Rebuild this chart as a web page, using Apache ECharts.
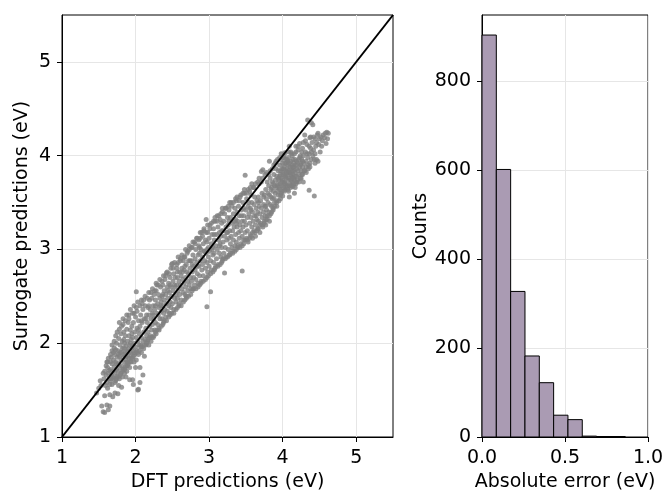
<!DOCTYPE html>
<html>
<head>
<meta charset="utf-8">
<script src="https://cdn.jsdelivr.net/npm/echarts@6/dist/echarts.min.js"></script>
<style>
html,body{margin:0;padding:0;background:#fff;}
#chart{width:665px;height:493px;}
</style>
</head>
<body>
<div id="chart"></div>
<script>
// ---- Data ----
// Scatter: [DFT prediction (eV), surrogate prediction (eV)] - core of the cloud
const scatterPoints = [
[1.47,1.47],[1.50,1.52],[1.52,1.60],[1.54,1.33],[1.53,1.55],
[1.56,1.27],[1.58,1.26],[1.61,1.34],[1.63,1.29],[1.65,1.33],[1.58,1.44],[1.65,1.45],[1.57,1.62],[1.58,1.70],[1.60,1.66],[1.61,1.58],[1.62,1.74],[1.63,1.68],[1.64,1.62],[1.59,1.55],[1.56,1.68],[1.62,1.80],[1.64,1.71],[1.60,1.76],
[1.66,1.60],[1.66,1.72],[1.67,1.85],[1.67,1.66],[1.68,1.78],[1.68,1.92],[1.69,1.70],[1.69,1.43],[1.70,1.63],[1.70,1.82],[1.71,1.75],[1.71,1.95],[1.72,1.47],[1.72,1.68],[1.72,1.88],[1.73,1.80],[1.73,1.60],[1.74,1.72],[1.74,2.00],[1.75,1.85],[1.75,1.65],[1.70,1.90],[1.68,1.56],[1.73,1.93],[1.66,1.80],
[1.76,1.46],[1.76,1.70],[1.76,1.92],[1.77,1.78],[1.77,2.05],[1.78,1.62],[1.78,1.86],[1.79,1.74],[1.79,1.98],[1.80,1.68],[1.80,1.82],[1.80,2.10],[1.81,1.90],[1.81,1.76],[1.82,1.64],[1.82,2.02],[1.83,1.85],[1.83,1.72],[1.84,1.95],[1.84,2.12],[1.85,1.80],[1.85,1.68],[1.78,2.15],[1.82,1.94],[1.84,1.88],[1.77,1.55],[1.81,1.53],[1.83,2.20],[1.79,1.90],[1.85,2.00],
[1.86,1.74],[1.86,1.90],[1.86,2.08],[1.87,1.82],[1.87,1.97],[1.88,1.70],[1.88,2.15],[1.89,1.86],[1.89,2.02],[1.90,1.78],[1.90,1.94],[1.90,2.22],[1.91,2.08],[1.91,1.84],[1.92,1.61],[1.92,1.98],[1.92,1.74],[1.93,2.14],[1.93,1.90],[1.94,1.80],[1.94,2.04],[1.95,1.95],[1.95,2.18],[1.88,1.92],[1.91,2.26],[1.87,1.64],[1.93,2.00],[1.89,1.76],[1.94,1.88],
[1.96,1.61],[1.96,1.84],[1.96,2.06],[1.97,1.56],[1.97,1.92],[1.97,2.22],[1.98,1.80],[1.98,2.00],[1.99,2.12],[1.99,1.88],[2.00,1.96],[2.00,2.28],[2.01,2.55],[2.01,2.06],[2.01,1.82],[2.02,2.16],[2.02,1.92],[2.03,1.50],[2.03,2.02],[2.04,2.24],[2.04,1.88],[2.05,2.10],[2.05,1.98],[1.98,2.32],[2.02,2.34],[2.04,1.51],[2.00,1.74],
[2.06,1.74],[2.06,1.58],[2.06,2.18],[2.07,1.96],[2.07,2.30],[2.08,2.06],[2.08,1.90],[2.09,2.22],[2.10,1.66],[2.10,2.02],[2.10,2.36],[2.11,2.12],[2.11,1.94],[2.12,2.26],[2.13,2.04],[2.13,2.40],[2.14,2.16],[2.14,1.98],[2.15,2.30],[2.15,2.08],[2.12,1.86],[2.09,2.42],
[2.16,2.02],[2.16,2.22],[2.17,2.38],[2.17,2.12],[2.18,1.98],[2.18,2.30],[2.19,2.46],[2.19,2.18],[2.20,2.08],[2.20,2.36],[2.21,2.26],[2.21,2.02],[2.22,2.14],[2.22,2.48],[2.23,2.32],[2.23,2.20],[2.24,2.06],[2.24,2.40],[2.25,2.26],[2.25,2.52],
[2.26,2.14],[2.26,2.36],[2.27,2.46],[2.27,2.22],[2.28,2.10],[2.28,2.56],[2.29,2.62],[2.29,2.32],[2.30,2.20],[2.30,2.42],[2.31,2.30],[2.31,2.52],[2.32,2.14],[2.32,2.38],[2.33,2.48],[2.33,2.26],[2.34,2.60],[2.35,2.34],[2.35,2.44],
[2.36,2.26],[2.36,2.50],[2.37,2.40],[2.37,2.62],[2.38,2.22],[2.38,2.32],[2.39,2.56],[2.39,2.46],[2.40,2.36],[2.40,2.68],[2.41,2.28],[2.41,2.52],[2.42,2.75],[2.42,2.42],[2.43,2.60],[2.43,2.34],[2.44,2.48],[2.45,2.40],[2.45,2.64],
[2.46,2.32],[2.46,2.54],[2.47,2.70],[2.47,2.44],[2.48,2.38],[2.48,2.60],[2.49,2.84],[2.49,2.50],[2.50,2.85],[2.50,2.42],[2.51,2.66],[2.51,2.56],[2.52,2.36],[2.52,2.74],[2.53,2.48],[2.53,2.62],[2.54,2.70],[2.55,2.52],[2.55,2.44],
[2.56,2.62],[2.56,2.80],[2.57,2.48],[2.57,2.70],[2.58,2.56],[2.58,2.86],[2.59,2.42],[2.59,2.66],[2.60,2.76],[2.60,2.52],[2.61,2.62],[2.61,2.90],[2.62,2.72],[2.62,2.46],[2.63,2.58],[2.63,2.80],[2.64,2.68],[2.65,2.54],[2.65,2.88],
[2.66,2.64],[2.66,2.78],[2.67,2.52],[2.67,2.92],[2.68,2.70],[2.68,2.60],[2.69,2.84],[2.69,2.48],[2.70,2.76],[2.70,2.96],[2.71,2.66],[2.71,2.56],[2.72,2.88],[2.72,2.74],[2.73,2.62],[2.73,3.00],[2.74,2.80],[2.75,2.70],[2.75,2.58],
[2.76,2.88],[2.76,2.66],[2.77,3.02],[2.77,2.76],[2.78,2.58],[2.78,2.94],[2.79,2.82],[2.79,2.70],[2.80,3.08],[2.80,2.62],[2.81,2.90],[2.81,2.78],[2.82,2.68],[2.82,3.00],[2.83,2.86],[2.84,2.74],[2.84,3.12],[2.85,2.94],[2.85,2.64],
[2.86,2.82],[2.86,3.04],[2.87,2.72],[2.87,2.96],[2.88,3.12],[2.88,2.88],[2.89,2.66],[2.89,3.00],[2.90,2.78],[2.90,3.18],[2.91,2.92],[2.91,2.84],[2.92,3.06],[2.92,2.72],[2.93,2.98],[2.93,3.22],[2.94,2.88],[2.95,3.10],[2.95,2.80],
[2.96,3.32],[2.96,2.96],[2.97,2.39],[2.97,2.86],[2.97,3.08],[2.98,2.76],[2.98,3.18],[2.99,3.02],[2.99,2.92],[3.00,2.82],[3.00,3.12],[3.01,3.26],[3.01,2.98],[3.02,2.55],[3.02,2.88],[3.03,3.06],[3.03,2.78],[3.04,3.16],[3.05,2.94],[3.05,3.02],
[3.06,2.86],[3.06,3.22],[3.07,3.10],[3.07,2.96],[3.08,3.30],[3.08,2.80],[3.09,3.04],[3.10,3.16],[3.10,2.90],[3.11,3.36],[3.11,3.00],[3.12,2.84],[3.12,3.24],[3.13,3.10],[3.14,2.96],[3.14,3.18],[3.15,3.06],[3.15,3.32],
[3.16,2.92],[3.16,3.14],[3.17,3.28],[3.17,3.02],[3.18,2.88],[3.18,3.40],[3.19,3.20],[3.19,3.08],[3.20,2.96],[3.20,3.30],[3.21,2.75],[3.21,3.14],[3.22,3.44],[3.22,3.02],[3.23,3.24],[3.23,2.92],[3.24,3.10],[3.25,3.34],[3.25,3.18],
[3.26,3.00],[3.26,3.26],[3.27,3.12],[3.27,3.42],[3.28,2.94],[3.28,3.20],[3.29,3.06],[3.29,3.34],[3.30,3.50],[3.30,3.14],[3.31,3.02],[3.31,3.28],[3.32,3.20],[3.32,2.98],[3.33,3.38],[3.33,3.10],[3.34,3.24],[3.35,3.04],[3.35,3.44],
[3.36,3.16],[3.36,3.32],[3.37,3.52],[3.37,3.08],[3.38,3.24],[3.38,3.40],[3.39,3.02],[3.39,3.30],[3.40,3.18],[3.40,3.46],[3.41,3.12],[3.41,3.36],[3.42,3.26],[3.42,3.56],[3.43,3.06],[3.43,3.20],[3.44,3.42],[3.45,2.77],[3.45,3.30],[3.45,3.14],
[3.46,3.24],[3.46,3.50],[3.47,3.36],[3.47,3.10],[3.48,3.30],[3.48,3.60],[3.49,3.79],[3.49,3.18],[3.50,3.42],[3.50,3.26],[3.51,3.12],[3.51,3.54],[3.52,3.34],[3.52,3.20],[3.53,3.46],[3.53,3.08],[3.54,3.38],[3.55,3.28],[3.55,3.62],
[3.56,3.16],[3.56,3.44],[3.57,3.34],[3.57,3.58],[3.58,3.24],[3.58,3.50],[3.59,3.12],[3.59,3.40],[3.60,3.30],[3.60,3.66],[3.61,3.20],[3.61,3.48],[3.62,3.36],[3.62,3.56],[3.63,3.26],[3.63,3.14],[3.64,3.44],[3.65,3.32],[3.65,3.52],
[3.66,3.40],[3.66,3.22],[3.67,3.56],[3.67,3.30],[3.68,3.46],[3.68,3.70],[3.69,3.18],[3.69,3.38],[3.70,3.52],[3.70,3.28],[3.71,3.83],[3.71,3.44],[3.72,3.34],[3.72,3.60],[3.73,3.85],[3.73,3.24],[3.74,3.48],[3.74,3.40],[3.75,3.58],[3.75,3.30],
[3.76,3.46],[3.76,3.36],[3.77,3.64],[3.77,3.26],[3.78,3.54],[3.78,3.42],[3.79,3.72],[3.79,3.32],[3.80,3.50],[3.80,3.60],[3.81,3.40],[3.81,3.68],[3.82,3.58],[3.82,3.94],[3.82,3.30],[3.83,3.48],[3.83,3.76],[3.84,3.56],[3.84,3.38],[3.85,3.66],[3.85,3.46],
[3.86,3.54],[3.86,3.72],[3.87,3.62],[3.87,3.44],[3.88,3.55],[3.88,3.80],[3.89,3.68],[3.89,3.50],[3.90,3.74],[3.90,3.60],[3.91,3.86],[3.91,3.66],[3.92,3.52],[3.92,3.78],[3.93,3.70],[3.93,3.62],[3.94,3.84],[3.94,3.58],[3.95,3.74],[3.95,3.66],[3.90,3.92],[3.92,3.46],
[3.96,3.78],[3.96,3.64],[3.96,3.90],[3.97,3.70],[3.97,3.84],[3.98,3.60],[3.98,3.76],[3.98,3.96],[3.99,3.68],[3.99,3.86],[4.00,3.57],[4.00,3.74],[4.00,3.92],[4.01,3.80],[4.01,3.66],[4.02,3.88],[4.02,3.72],[4.02,4.00],[4.03,3.78],[4.03,4.03],[4.03,3.64],[4.04,3.84],[4.04,3.70],[4.05,3.92],[4.05,3.76],[4.00,3.82],[4.04,3.96],[3.97,3.54],
[4.06,3.68],[4.06,3.86],[4.06,3.80],[4.07,3.74],[4.07,3.94],[4.08,3.62],[4.08,3.82],[4.08,3.98],[4.09,3.56],[4.09,3.76],[4.09,4.10],[4.10,3.88],[4.10,3.70],[4.10,3.82],[4.11,3.94],[4.11,3.66],[4.12,3.78],[4.12,3.86],[4.12,4.02],[4.13,3.72],[4.13,3.90],[4.14,3.67],[4.14,3.80],[4.14,3.96],[4.15,3.84],[4.15,3.76],[4.07,3.90],[4.11,3.74],[4.13,3.84],
[4.16,3.60],[4.16,3.88],[4.16,3.74],[4.17,3.82],[4.17,3.96],[4.18,3.70],[4.18,3.90],[4.18,4.04],[4.19,3.78],[4.19,3.86],[4.20,3.92],[4.20,3.74],[4.21,4.06],[4.21,3.84],[4.22,3.80],[4.22,3.96],[4.23,4.13],[4.23,3.88],[4.24,3.76],[4.24,4.00],[4.25,3.92],[4.25,3.84],
[4.26,3.80],[4.26,3.96],[4.27,4.08],[4.27,3.88],[4.28,3.72],[4.28,4.00],[4.29,3.92],[4.30,4.22],[4.30,3.84],[4.31,4.04],[4.32,3.94],[4.32,3.88],[4.33,4.12],[4.34,4.38],[4.34,3.98],[4.35,3.90],
[4.36,3.63],[4.36,4.02],[4.37,4.19],[4.37,3.92],[4.38,4.08],[4.39,4.35],[4.39,3.96],[4.40,4.14],[4.41,4.33],[4.41,4.00],[4.42,4.06],[4.43,3.57],[4.43,3.96],[4.44,4.18],[4.45,4.10],
[4.46,3.96],[4.47,4.22],[4.48,4.24],[4.48,3.94],[4.49,4.12],[4.51,4.04],[4.52,4.20],[4.54,4.16],[4.57,4.19],[4.59,4.13],[4.60,4.25],[4.62,4.24],[4.61,4.18]
];
// Scatter: points on the upper/lower edges of the cloud
const scatterEdgePoints = [
[1.61,1.80],[1.63,1.84],[1.66,1.88],[1.68,1.98],[1.62,1.52],[1.65,1.56],[1.67,1.62],[1.69,1.64],
[1.71,2.02],[1.73,2.08],[1.75,2.12],[1.78,2.22],[1.72,1.58],[1.74,1.62],[1.76,1.64],[1.79,1.66],[1.74,1.78],[1.77,1.88],
[1.81,2.18],[1.83,2.26],[1.86,2.24],[1.88,2.30],[1.82,1.70],[1.85,1.72],[1.87,1.76],[1.89,1.80],[1.84,2.04],[1.87,1.86],
[1.91,2.30],[1.93,2.36],[1.96,2.32],[1.98,2.40],[1.92,1.80],[1.94,1.84],[1.97,1.86],[1.99,1.90],[1.95,2.10],[1.96,1.98],
[2.01,2.38],[2.03,2.44],[2.06,2.40],[2.08,2.46],[2.02,1.90],[2.05,1.92],[2.07,1.98],[2.09,1.96],[2.04,2.14],[2.08,2.24],
[2.11,2.46],[2.13,2.50],[2.16,2.48],[2.18,2.54],[2.12,1.98],[2.15,2.00],[2.17,2.04],[2.19,2.06],[2.14,2.26],[2.18,2.40],
[2.21,2.54],[2.23,2.58],[2.26,2.56],[2.28,2.64],[2.22,2.06],[2.25,2.08],[2.27,2.12],[2.29,2.14],[2.24,2.30],[2.27,2.40],
[2.31,2.62],[2.33,2.68],[2.36,2.66],[2.38,2.72],[2.32,2.16],[2.35,2.18],[2.37,2.20],[2.39,2.24],[2.34,2.40],[2.37,2.52],
[2.41,2.72],[2.43,2.76],[2.46,2.74],[2.48,2.80],[2.42,2.24],[2.45,2.28],[2.47,2.30],[2.49,2.32],[2.44,2.56],[2.47,2.62],
[2.51,2.80],[2.53,2.86],[2.56,2.84],[2.58,2.92],[2.52,2.32],[2.55,2.36],[2.57,2.38],[2.59,2.40],[2.54,2.60],[2.57,2.76],
[2.61,2.88],[2.63,2.94],[2.66,2.92],[2.68,3.00],[2.62,2.40],[2.65,2.44],[2.67,2.46],[2.69,2.50],[2.64,2.76],[2.67,2.82],
[2.71,2.98],[2.73,3.04],[2.76,3.02],[2.78,3.08],[2.72,2.50],[2.75,2.52],[2.77,2.56],[2.79,2.58],[2.74,2.88],[2.77,2.84],
[2.81,3.06],[2.83,3.12],[2.86,3.10],[2.88,3.18],[2.82,2.58],[2.85,2.60],[2.87,2.62],[2.89,2.64],[2.84,2.82],[2.87,3.02],
[2.91,3.14],[2.93,3.20],[2.96,3.18],[2.98,3.26],[2.92,2.66],[2.95,2.68],[2.97,2.70],[2.99,2.72],[2.94,2.98],[2.97,3.00],
[3.01,3.22],[3.03,3.28],[3.06,3.30],[3.08,3.34],[3.02,2.74],[3.05,2.76],[3.07,2.78],[3.09,2.82],[3.04,3.00],[3.07,3.16],
[3.11,3.30],[3.13,3.36],[3.16,3.38],[3.18,3.44],[3.12,2.82],[3.15,2.84],[3.17,2.86],[3.19,2.90],[3.14,3.04],[3.17,3.20],
[3.21,3.38],[3.23,3.44],[3.26,3.46],[3.28,3.50],[3.22,2.90],[3.25,2.92],[3.27,2.94],[3.29,2.96],[3.24,3.18],[3.27,3.30],
[3.31,3.46],[3.33,3.50],[3.36,3.54],[3.38,3.56],[3.32,2.96],[3.35,2.98],[3.37,3.00],[3.39,3.04],[3.34,3.30],[3.37,3.28],
[3.41,3.52],[3.43,3.58],[3.46,3.60],[3.48,3.64],[3.42,3.02],[3.45,3.04],[3.47,3.06],[3.49,3.10],[3.44,3.36],[3.47,3.44],
[3.51,3.60],[3.53,3.64],[3.56,3.66],[3.58,3.70],[3.52,3.10],[3.55,3.12],[3.57,3.14],[3.59,3.18],[3.54,3.50],[3.57,3.42],
[3.61,3.66],[3.63,3.70],[3.66,3.72],[3.68,3.76],[3.62,3.18],[3.65,3.20],[3.67,3.22],[3.69,3.26],[3.64,3.36],[3.67,3.50],
[3.71,3.72],[3.73,3.76],[3.76,3.80],[3.78,3.82],[3.72,3.26],[3.75,3.28],[3.77,3.32],[3.79,3.36],[3.74,3.56],[3.77,3.46],
[3.81,3.80],[3.83,3.84],[3.86,3.86],[3.88,3.90],[3.82,3.36],[3.85,3.40],[3.87,3.42],[3.89,3.46],[3.84,3.64],[3.87,3.70],
[3.91,3.94],[3.93,3.96],[3.96,3.98],[3.98,4.02],[3.92,3.50],[3.95,3.52],[3.97,3.58],[3.99,3.62],[3.94,3.76],[3.97,3.80],[3.93,3.68],[3.99,3.72],
[4.01,3.98],[4.03,3.92],[4.06,3.96],[4.08,4.04],[4.02,3.62],[4.05,3.66],[4.07,3.64],[4.09,3.68],[4.04,3.78],[4.07,3.84],[4.01,3.86],[4.05,3.82],[4.09,3.92],[4.03,3.70],
[4.11,4.04],[4.13,4.00],[4.16,4.02],[4.18,4.10],[4.12,3.68],[4.15,3.70],[4.17,3.66],[4.19,3.72],[4.14,3.88],[4.17,3.78],[4.11,3.80],[4.15,3.92],[4.19,3.94],[4.13,3.76],
[4.21,4.10],[4.23,3.98],[4.26,4.04],[4.28,4.14],[4.22,3.72],[4.25,3.76],[4.27,3.80],[4.29,3.84],[4.24,3.90],[4.27,3.94],
[4.31,4.16],[4.33,4.02],[4.36,4.10],[4.38,4.20],[4.32,3.82],[4.35,3.86],[4.37,3.88],[4.39,4.04],
[4.42,4.20],[4.44,4.02],[4.46,4.14],[4.50,4.18],[4.53,4.10],[4.55,4.22],[4.58,4.24],[4.44,3.92]
];
// Parity line y = x
const diagonal = [[1, 1], [5.5, 5.5]];
// Histogram of absolute error
const binEdges = [0, 0.0863, 0.1726, 0.2589, 0.3452, 0.4315, 0.5178, 0.6041, 0.6904, 0.7767, 0.863];
const binCounts = [903, 601, 327, 182, 122, 49, 39, 2, 1, 1];
// Tick labels
const parityTicks = [1, 2, 3, 4, 5];
const errorTicks = [0, 0.5, 1.0];
const countTicks = [0, 200, 400, 600, 800];

const histData = binCounts.map((c, i) => [binEdges[i], binEdges[i + 1], c]);

const FONT = 'DejaVu Sans';
const TICK_FS = 19;
const NAME_FS = 19;
const gridLine = { show: true, lineStyle: { color: '#e6e6e6', width: 1 } };
const axisLine = { show: true, lineStyle: { color: '#000', width: 1 } };
function ticks(vals) { return { show: true, length: 5, lineStyle: { color: '#000', width: 1 }, customValues: vals }; }
function labels(vals, margin, fmt) {
  return { show: true, color: '#000', fontFamily: FONT, fontSize: TICK_FS, margin: margin, customValues: vals, formatter: fmt };
}
const nameStyle = { fontFamily: FONT, fontSize: NAME_FS, color: '#000' };

const chart = echarts.init(document.getElementById('chart'), null, { renderer: 'canvas' });
chart.setOption({
  animation: false,
  backgroundColor: '#fff',
  grid: [
    { left: 62, top: 15, width: 331, height: 422, show: true, borderColor: '#000', borderWidth: 1, backgroundColor: 'transparent', containLabel: false, outerBoundsMode: 'none' },
    { left: 482, top: 15, width: 166, height: 422, show: true, borderColor: '#000', borderWidth: 1, backgroundColor: 'transparent', containLabel: false, outerBoundsMode: 'none' }
  ],
  xAxis: [
    { type: 'value', gridIndex: 0, min: 1, max: 5.5, interval: 1,
      name: 'DFT predictions (eV)', nameLocation: 'middle', nameGap: 34, nameTextStyle: nameStyle,
      axisLine: axisLine, axisTick: ticks(parityTicks), axisLabel: labels(parityTicks, 12, v => String(v)), splitLine: gridLine },
    { type: 'value', gridIndex: 1, min: 0, max: 1, interval: 0.5,
      name: 'Absolute error (eV)', nameLocation: 'middle', nameGap: 34, nameTextStyle: nameStyle,
      axisLine: axisLine, axisTick: ticks(errorTicks), axisLabel: labels(errorTicks, 12, v => v.toFixed(1)), splitLine: gridLine }
  ],
  yAxis: [
    { type: 'value', gridIndex: 0, min: 1, max: 5.5, interval: 1,
      name: 'Surrogate predictions (eV)', nameLocation: 'middle', nameGap: 30, nameTextStyle: nameStyle,
      axisLine: axisLine, axisTick: ticks(parityTicks), axisLabel: labels(parityTicks, 11, v => String(v)), splitLine: gridLine },
    { type: 'value', gridIndex: 1, min: 0, max: 948, interval: 200,
      name: 'Counts', nameLocation: 'middle', nameGap: 51, nameTextStyle: nameStyle,
      axisLine: axisLine, axisTick: ticks(countTicks), axisLabel: labels(countTicks, 11, v => String(v)), splitLine: gridLine }
  ],
  series: [
    { type: 'scatter', xAxisIndex: 0, yAxisIndex: 0, data: scatterPoints.concat(scatterEdgePoints), symbol: 'circle', symbolSize: 5,
      itemStyle: { color: '#808080' }, z: 2, silent: true },
    { type: 'line', xAxisIndex: 0, yAxisIndex: 0, data: diagonal, symbol: 'none',
      lineStyle: { color: '#000', width: 2 }, z: 3, silent: true },
    { type: 'custom', xAxisIndex: 1, yAxisIndex: 1, data: histData, encode: { x: [0, 1], y: 2 }, z: 2, silent: true,
      renderItem: function (params, api) {
        const p0 = api.coord([api.value(0), api.value(2)]);
        const p1 = api.coord([api.value(1), 0]);
        return { type: 'rect',
          shape: { x: p0[0], y: p0[1], width: p1[0] - p0[0], height: p1[1] - p0[1] },
          style: { fill: '#aa9bb3', stroke: '#000', lineWidth: 1 } };
      } }
  ]
});
</script>
</body>
</html>
